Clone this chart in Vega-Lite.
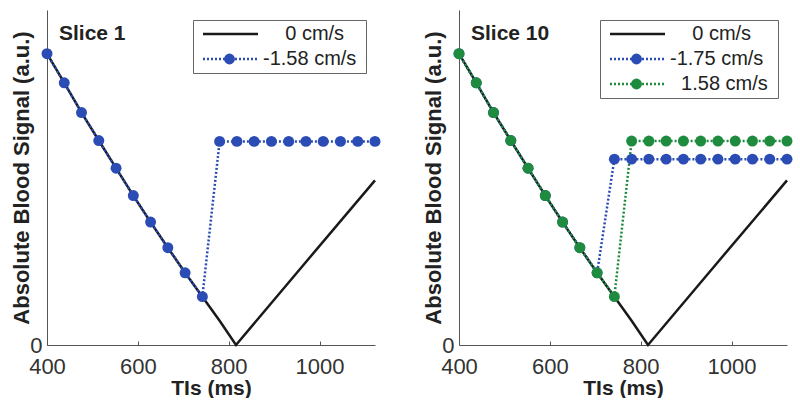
{
  "$schema": "https://vega.github.io/schema/vega-lite/v6.json",
  "padding": {"left": 10, "top": 10, "right": 0, "bottom": 0},
  "config": {
    "view": {"stroke": null},
    "font": "Liberation Sans",
    "axis": {"domainColor": "#555", "domainWidth": 1, "tickColor": "#555", "grid": false, "labelFontSize": 22, "labelColor": "#333", "titleFontSize": 21, "titleFontWeight": "bold", "titleColor": "#222", "labelFlush": false, "labelOverlap": false, "titleLimit": 600, "format": "d"},
    "legend": {"orient": "top-right", "offset": 9.5, "padding": 4, "strokeColor": "#666", "fillColor": "white", "labelFontSize": 20, "labelColor": "#222", "symbolSize": 4, "symbolStrokeWidth": 2.5, "labelOffset": 46, "rowPadding": 5, "labelLimit": 300}
  },
  "spacing": 41,
  "resolve": {"scale": {"color": "independent"}},
  "hconcat": [
    {
      "width": 328,
      "height": 335,
      "title": {"text": "Slice 1", "anchor": "start", "frame": "group", "offset": -34, "dx": 12, "baseline": "top", "fontSize": 21, "fontWeight": "bold", "color": "#222"},
      "data": {"values": [
        {"series": "0 cm/s", "ti": 400, "signal": 1.0},
        {"series": "0 cm/s", "ti": 438, "signal": 0.9},
        {"series": "0 cm/s", "ti": 476, "signal": 0.798},
        {"series": "0 cm/s", "ti": 514, "signal": 0.702},
        {"series": "0 cm/s", "ti": 552, "signal": 0.607},
        {"series": "0 cm/s", "ti": 590, "signal": 0.513},
        {"series": "0 cm/s", "ti": 628, "signal": 0.422},
        {"series": "0 cm/s", "ti": 666, "signal": 0.334},
        {"series": "0 cm/s", "ti": 704, "signal": 0.248},
        {"series": "0 cm/s", "ti": 742, "signal": 0.166},
        {"series": "0 cm/s", "ti": 780, "signal": 0.083},
        {"series": "0 cm/s", "ti": 816, "signal": 0.0},
        {"series": "0 cm/s", "ti": 970, "signal": 0.285},
        {"series": "0 cm/s", "ti": 1122, "signal": 0.565},
        {"series": "-1.58 cm/s", "ti": 400, "signal": 1.0},
        {"series": "-1.58 cm/s", "ti": 438, "signal": 0.9},
        {"series": "-1.58 cm/s", "ti": 476, "signal": 0.798},
        {"series": "-1.58 cm/s", "ti": 514, "signal": 0.702},
        {"series": "-1.58 cm/s", "ti": 552, "signal": 0.607},
        {"series": "-1.58 cm/s", "ti": 590, "signal": 0.513},
        {"series": "-1.58 cm/s", "ti": 628, "signal": 0.422},
        {"series": "-1.58 cm/s", "ti": 666, "signal": 0.334},
        {"series": "-1.58 cm/s", "ti": 704, "signal": 0.248},
        {"series": "-1.58 cm/s", "ti": 742, "signal": 0.166},
        {"series": "-1.58 cm/s", "ti": 780, "signal": 0.699},
        {"series": "-1.58 cm/s", "ti": 818, "signal": 0.699},
        {"series": "-1.58 cm/s", "ti": 856, "signal": 0.699},
        {"series": "-1.58 cm/s", "ti": 894, "signal": 0.699},
        {"series": "-1.58 cm/s", "ti": 932, "signal": 0.699},
        {"series": "-1.58 cm/s", "ti": 970, "signal": 0.699},
        {"series": "-1.58 cm/s", "ti": 1008, "signal": 0.699},
        {"series": "-1.58 cm/s", "ti": 1046, "signal": 0.699},
        {"series": "-1.58 cm/s", "ti": 1084, "signal": 0.699},
        {"series": "-1.58 cm/s", "ti": 1122, "signal": 0.699}
      ]},
      "encoding": {
        "x": {"field": "ti", "type": "quantitative", "scale": {"domain": [400, 1122], "nice": false, "zero": false}, "axis": {"values": [400, 600, 800, 1000], "title": "TIs (ms)", "tickSize": -4, "labelPadding": 15, "titlePadding": 0}},
        "y": {"field": "signal", "type": "quantitative", "scale": {"domain": [0, 1.15], "nice": false}, "axis": {"values": [0], "ticks": false, "labelPadding": 5, "title": "Absolute Blood Signal (a.u.)", "titleFontSize": 22, "titlePadding": -4}},
        "color": {
          "field": "series", "type": "nominal",
          "scale": {"domain": ["0 cm/s", "-1.58 cm/s"], "range": ["#1a1a1a", "#2a4cb4"]},
          "legend": {
            "title": null,
            "labelExpr": "datum.value === '0 cm/s' ? '\u200b\u00a0\u00a0\u00a0\u00a00 cm/s\u00a0\u200b' : '\u200b' + datum.value + '\u00a0\u200b'",
            "encode": {"symbols": {"update": {
              "shape": {"signal": "datum.value === '0 cm/s' ? 'M-4,0H51' : 'M-4,0h2M0,0h2M4,0h2M8,0h2M12,0h2M16,0h2M28,0h2M32,0h2M36,0h2M40,0h2M44,0h2M48,0h2M18.3,0A4.2,4.2,0,1,1,26.7,0A4.2,4.2,0,1,1,18.3,0Z'"},
              "stroke": {"signal": "datum.value === '0 cm/s' ? '#1a1a1a' : '#2a4cb4'"},
              "fill": {"signal": "datum.value === '0 cm/s' ? 'transparent' : '#2a4cb4'"},
              "strokeDash": {"value": []},
              "strokeWidth": {"value": 2.5},
              "opacity": {"value": 1}
            }}}
          }
        }
      },
      "layer": [
        {"transform": [{"filter": "datum.series === '0 cm/s'"}], "mark": {"type": "line", "strokeWidth": 2.5}},
        {"transform": [{"filter": "datum.series !== '0 cm/s'"}], "mark": {"type": "line", "strokeWidth": 2.5, "strokeDash": [2, 2]}},
        {"transform": [{"filter": "datum.series !== '0 cm/s'"}], "mark": {"type": "point", "shape": "circle", "filled": true, "size": 120, "opacity": 1}}
      ]
    },
    {
      "width": 328,
      "height": 335,
      "title": {"text": "Slice 10", "anchor": "start", "frame": "group", "offset": -34, "dx": 12, "baseline": "top", "fontSize": 21, "fontWeight": "bold", "color": "#222"},
      "data": {"values": [
        {"series": "0 cm/s", "ti": 400, "signal": 1.0},
        {"series": "0 cm/s", "ti": 438, "signal": 0.9},
        {"series": "0 cm/s", "ti": 476, "signal": 0.798},
        {"series": "0 cm/s", "ti": 514, "signal": 0.702},
        {"series": "0 cm/s", "ti": 552, "signal": 0.607},
        {"series": "0 cm/s", "ti": 590, "signal": 0.513},
        {"series": "0 cm/s", "ti": 628, "signal": 0.422},
        {"series": "0 cm/s", "ti": 666, "signal": 0.334},
        {"series": "0 cm/s", "ti": 704, "signal": 0.248},
        {"series": "0 cm/s", "ti": 742, "signal": 0.166},
        {"series": "0 cm/s", "ti": 780, "signal": 0.083},
        {"series": "0 cm/s", "ti": 816, "signal": 0.0},
        {"series": "0 cm/s", "ti": 970, "signal": 0.285},
        {"series": "0 cm/s", "ti": 1122, "signal": 0.565},
        {"series": "-1.75 cm/s", "ti": 400, "signal": 1.0},
        {"series": "-1.75 cm/s", "ti": 438, "signal": 0.9},
        {"series": "-1.75 cm/s", "ti": 476, "signal": 0.798},
        {"series": "-1.75 cm/s", "ti": 514, "signal": 0.702},
        {"series": "-1.75 cm/s", "ti": 552, "signal": 0.607},
        {"series": "-1.75 cm/s", "ti": 590, "signal": 0.513},
        {"series": "-1.75 cm/s", "ti": 628, "signal": 0.422},
        {"series": "-1.75 cm/s", "ti": 666, "signal": 0.334},
        {"series": "-1.75 cm/s", "ti": 704, "signal": 0.248},
        {"series": "-1.75 cm/s", "ti": 742, "signal": 0.638},
        {"series": "-1.75 cm/s", "ti": 780, "signal": 0.638},
        {"series": "-1.75 cm/s", "ti": 818, "signal": 0.638},
        {"series": "-1.75 cm/s", "ti": 856, "signal": 0.638},
        {"series": "-1.75 cm/s", "ti": 894, "signal": 0.638},
        {"series": "-1.75 cm/s", "ti": 932, "signal": 0.638},
        {"series": "-1.75 cm/s", "ti": 970, "signal": 0.638},
        {"series": "-1.75 cm/s", "ti": 1008, "signal": 0.638},
        {"series": "-1.75 cm/s", "ti": 1046, "signal": 0.638},
        {"series": "-1.75 cm/s", "ti": 1084, "signal": 0.638},
        {"series": "-1.75 cm/s", "ti": 1122, "signal": 0.638},
        {"series": "1.58 cm/s", "ti": 400, "signal": 1.0},
        {"series": "1.58 cm/s", "ti": 438, "signal": 0.9},
        {"series": "1.58 cm/s", "ti": 476, "signal": 0.798},
        {"series": "1.58 cm/s", "ti": 514, "signal": 0.702},
        {"series": "1.58 cm/s", "ti": 552, "signal": 0.607},
        {"series": "1.58 cm/s", "ti": 590, "signal": 0.513},
        {"series": "1.58 cm/s", "ti": 628, "signal": 0.422},
        {"series": "1.58 cm/s", "ti": 666, "signal": 0.334},
        {"series": "1.58 cm/s", "ti": 704, "signal": 0.248},
        {"series": "1.58 cm/s", "ti": 742, "signal": 0.166},
        {"series": "1.58 cm/s", "ti": 780, "signal": 0.7},
        {"series": "1.58 cm/s", "ti": 818, "signal": 0.7},
        {"series": "1.58 cm/s", "ti": 856, "signal": 0.7},
        {"series": "1.58 cm/s", "ti": 894, "signal": 0.7},
        {"series": "1.58 cm/s", "ti": 932, "signal": 0.7},
        {"series": "1.58 cm/s", "ti": 970, "signal": 0.7},
        {"series": "1.58 cm/s", "ti": 1008, "signal": 0.7},
        {"series": "1.58 cm/s", "ti": 1046, "signal": 0.7},
        {"series": "1.58 cm/s", "ti": 1084, "signal": 0.7},
        {"series": "1.58 cm/s", "ti": 1122, "signal": 0.7}
      ]},
      "encoding": {
        "x": {"field": "ti", "type": "quantitative", "scale": {"domain": [400, 1122], "nice": false, "zero": false}, "axis": {"values": [400, 600, 800, 1000], "title": "TIs (ms)", "tickSize": -4, "labelPadding": 15, "titlePadding": 0}},
        "y": {"field": "signal", "type": "quantitative", "scale": {"domain": [0, 1.15], "nice": false}, "axis": {"values": [0], "ticks": false, "labelPadding": 5, "title": "Absolute Blood Signal (a.u.)", "titleFontSize": 22, "titlePadding": -4}},
        "color": {
          "field": "series", "type": "nominal",
          "scale": {"domain": ["0 cm/s", "-1.75 cm/s", "1.58 cm/s"], "range": ["#1a1a1a", "#2a4cb4", "#1e8b3e"]},
          "legend": {
            "title": null,
            "labelExpr": "datum.value === '0 cm/s' ? '\u200b\u00a0\u00a0\u00a0\u00a00 cm/s\u00a0\u200b' : datum.value === '1.58 cm/s' ? '\u200b\u00a0\u00a01.58 cm/s\u00a0\u200b' : '\u200b' + datum.value + '\u00a0\u200b'",
            "encode": {"symbols": {"update": {
              "shape": {"signal": "datum.value === '0 cm/s' ? 'M-4,0H51' : 'M-4,0h2M0,0h2M4,0h2M8,0h2M12,0h2M16,0h2M28,0h2M32,0h2M36,0h2M40,0h2M44,0h2M48,0h2M18.3,0A4.2,4.2,0,1,1,26.7,0A4.2,4.2,0,1,1,18.3,0Z'"},
              "stroke": {"signal": "datum.value === '0 cm/s' ? '#1a1a1a' : datum.value === '1.58 cm/s' ? '#1e8b3e' : '#2a4cb4'"},
              "fill": {"signal": "datum.value === '0 cm/s' ? 'transparent' : datum.value === '1.58 cm/s' ? '#1e8b3e' : '#2a4cb4'"},
              "strokeDash": {"value": []},
              "strokeWidth": {"value": 2.5},
              "opacity": {"value": 1}
            }}}
          }
        }
      },
      "layer": [
        {"transform": [{"filter": "datum.series === '0 cm/s'"}], "mark": {"type": "line", "strokeWidth": 2.5}},
        {"transform": [{"filter": "datum.series !== '0 cm/s'"}], "mark": {"type": "line", "strokeWidth": 2.5, "strokeDash": [2, 2]}},
        {"transform": [{"filter": "datum.series !== '0 cm/s'"}], "mark": {"type": "point", "shape": "circle", "filled": true, "size": 120, "opacity": 1}}
      ]
    }
  ]
}
